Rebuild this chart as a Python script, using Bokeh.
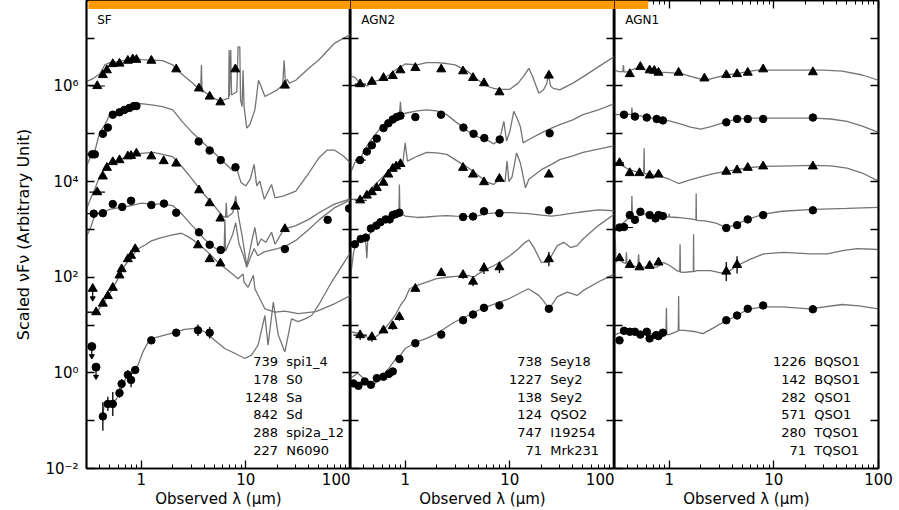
import numpy as np
from bokeh.plotting import figure
from bokeh.layouts import row
from bokeh.models import (FixedTicker, CustomJSTickFormatter, LogAxis, Range1d,
                          BoxAnnotation)
from bokeh.core.properties import value
from bokeh.embed import file_html
from bokeh.resources import INLINE

# ------------------------------------------------------------------ data
# wavelengths in micron, fluxes given as log10(nuFnu)

# ---- SF panel
spi1_4_line_lam = [0.30, 0.35, 0.40, 0.45, 0.50, 0.60, 0.70, 0.80, 1.0, 1.3, 1.6, 2.0, 2.5, 3.0, 3.7, 3.76, 3.82,
                   4.0, 5.0, 5.7, 6.3, 6.85, 6.92, 6.97, 7.17, 7.3, 8.2, 8.43, 8.75, 8.9, 9.21, 9.4, 9.62, 10.2,
                   10.9, 12.2, 13.2, 14.0, 15.2, 20, 22.5, 23.2, 23.9, 24.8, 26, 30, 40, 50, 70, 100]
spi1_4_line_logf = [6.09, 6.16, 6.25, 6.44, 6.49, 6.51, 6.54, 6.58, 6.55, 6.54, 6.53, 6.44, 6.23, 6.09, 5.90, 6.44,
                    5.88, 5.88, 5.74, 5.68, 5.72, 5.74, 6.75, 5.78, 6.75, 5.81, 5.88, 6.82, 6.82, 5.71, 5.57, 6.33,
                    5.57, 5.12, 5.19, 5.50, 6.12, 5.99, 5.78, 5.92, 6.02, 6.54, 6.06, 6.14, 6.06, 6.12, 6.37, 6.55,
                    6.89, 7.08]
spi1_4_pts_lam = [0.38, 0.43, 0.47, 0.535, 0.62, 0.745, 0.83, 0.90, 1.25, 2.16, 3.56, 4.51, 5.71, 7.94, 23.6]
spi1_4_pts_logf = [6.0, 6.23, 6.33, 6.46, 6.47, 6.53, 6.56, 6.55, 6.53, 6.35, 5.95, 5.78, 5.66, 6.35, 6.01]
spi1_4_hbar = [0.32, 0.45]

s0_line_lam = [0.30, 0.33, 0.36, 0.40, 0.45, 0.50, 0.60, 0.70, 0.80, 1.0, 1.3, 1.6, 2.0, 2.5, 3.0, 4.0, 5.0, 6.0,
               7.0, 7.6, 8.0, 8.5, 9.0, 10, 11, 12, 12.7, 13.6, 15, 17.6, 19, 23, 30, 40, 50, 60, 70, 85, 100]
s0_line_logf = [4.32, 4.53, 4.63, 5.02, 5.19, 5.40, 5.47, 5.51, 5.57, 5.63, 5.60, 5.57, 5.50, 5.24, 5.05, 4.79,
                4.60, 4.43, 4.29, 4.22, 4.36, 4.15, 3.98, 3.91, 4.05, 4.36, 3.91, 4.01, 3.63, 3.94, 3.66, 3.70,
                3.80, 4.18, 4.50, 4.66, 4.66, 4.54, 4.39]
s0_pts_lam = [0.34, 0.36, 0.43, 0.48, 0.535, 0.62, 0.69, 0.77, 0.85, 0.90, 3.54, 4.51, 5.75, 7.96]
s0_pts_logf = [4.57, 4.57, 5.0, 5.13, 5.40, 5.45, 5.50, 5.54, 5.58, 5.58, 4.84, 4.65, 4.45, 4.30]
s0_hbar = [0.30, 0.38]

sa_line_lam = [0.30, 0.33, 0.36, 0.40, 0.45, 0.50, 0.60, 0.70, 0.80, 1.0, 1.3, 1.6, 2.0, 2.5, 3.0, 4.0, 5.0, 6.0,
               6.4, 6.5, 6.6, 7.5, 8.0, 8.5, 9.2, 10.2, 11.5, 12.2, 13, 14, 15.5, 17.6, 19, 23, 30, 40, 50, 70, 100]
sa_line_logf = [3.42, 3.66, 3.84, 4.11, 4.29, 4.38, 4.45, 4.50, 4.57, 4.59, 4.61, 4.57, 4.52, 4.29, 4.08, 3.73,
                3.49, 3.28, 3.25, 3.56, 3.25, 3.35, 3.70, 3.28, 2.87, 2.24, 2.80, 3.04, 2.66, 2.80, 2.73, 2.94,
                2.69, 3.0, 3.08, 3.21, 3.35, 3.53, 3.64]
sa_pts_lam = [0.38, 0.43, 0.47, 0.535, 0.62, 0.745, 0.80, 0.90, 1.25, 1.64, 2.16, 3.57, 4.51, 5.71, 7.94, 23.6]
sa_pts_logf = [3.78, 4.11, 4.29, 4.41, 4.45, 4.53, 4.54, 4.59, 4.53, 4.43, 4.38, 3.82, 3.55, 3.23, 3.48, 3.01]
sa_hbar = [0.32, 0.45]

sd_line_lam = [0.30, 0.33, 0.36, 0.40, 0.45, 0.50, 0.60, 0.70, 0.80, 1.0, 1.3, 1.6, 2.0, 2.5, 3.0, 3.5, 4.0, 5.0,
               5.7, 6.2, 6.3, 6.4, 7.5, 8.0, 8.6, 9.5, 10.2, 11, 12, 13, 15, 20, 24, 30, 40, 50, 70, 100]
sd_line_logf = [2.85, 3.05, 3.30, 3.35, 3.38, 3.42, 3.45, 3.47, 3.50, 3.55, 3.53, 3.53, 3.50, 3.30, 3.10, 2.95,
                2.80, 2.62, 2.55, 2.55, 3.20, 2.55, 2.90, 3.14, 2.70, 2.45, 2.21, 2.40, 2.60, 2.45, 2.53, 2.60,
                2.65, 2.77, 3.00, 3.20, 3.45, 3.62]
sd_pts_lam = [0.352, 0.43, 0.535, 0.658, 0.80, 1.25, 1.65, 2.16, 3.57, 4.51, 5.75, 23.6, 60.5, 97]
sd_pts_logf = [3.33, 3.34, 3.53, 3.47, 3.60, 3.51, 3.54, 3.35, 2.94, 2.68, 2.57, 2.59, 3.20, 3.44]
sd_hbar = [0.30, 0.41]

spi2a_line_lam = [0.30, 0.38, 0.41, 0.445, 0.52, 0.60, 0.69, 0.80, 0.93, 1.08, 1.25, 1.56, 1.94, 2.42, 2.80, 3.49,
                  4.35, 5.43, 6.77, 8.43, 9.4, 9.6, 10.5, 11.8, 12.2, 15.2, 19, 23.6, 31.6, 46.8, 71, 100]
spi2a_line_logf = [1.26, 1.26, 1.40, 1.50, 1.72, 1.97, 2.23, 2.42, 2.59, 2.67, 2.76, 2.83, 2.88, 2.92, 2.85, 2.71,
                   2.52, 2.31, 2.14, 1.97, 2.07, 1.90, 1.79, 2.04, 1.76, 1.34, 1.27, 1.29, 1.24, 1.28, 1.45, 1.62]
spi2a_pts_lam = [0.371, 0.43, 0.48, 0.535, 0.62, 0.65, 0.745, 0.80, 0.876, 3.49, 4.51, 5.71]
spi2a_pts_logf = [1.27, 1.45, 1.61, 1.78, 2.04, 2.17, 2.38, 2.45, 2.59, 2.67, 2.38, 2.29]
spi2a_hbar = [0.30, 0.40]
spi2a_lim_lam = [0.344]
spi2a_lim_logf = [1.76]

n6090_line_lam = [0.43, 0.445, 0.50, 0.58, 0.64, 0.72, 0.83, 0.93, 1.04, 1.16, 1.34, 1.67, 2.08, 2.60, 3.24, 4.05,
                  5.04, 6.28, 7.83, 9.78, 11.3, 13.1, 15.2, 16.3, 18.3, 20.4, 23.6, 27.3, 31.6, 36.7, 42.5, 49.3,
                  66, 100]
n6090_line_logf = [-0.87, -0.63, -0.60, -0.56, -0.29, -0.11, -0.01, 0.16, 0.44, 0.64, 0.73, 0.79, 0.84, 0.91,
                   0.93, 0.86, 0.68, 0.51, 0.41, 0.30, 0.37, 0.58, 1.20, 0.58, 1.48, 0.79, 0.44, 1.13, 1.07, 1.13,
                   1.20, 1.41, 1.90, 2.52]
n6090_pts_lam = [0.43, 0.48, 0.535, 0.62, 0.65, 0.745, 0.80, 0.876, 1.25, 2.16, 3.49, 4.51]
n6090_pts_logf = [-0.91, -0.65, -0.65, -0.42, -0.23, -0.04, -0.15, 0.06, 0.68, 0.84, 0.89, 0.84]
n6090_yerr = [0.30, 0.15, 0.25, 0.10, 0.10, 0.10, 0.15, 0.05, 0.05, 0.03, 0.12, 0.12]
n6090_lim_lam = [0.337, 0.37]
n6090_lim_logf = [0.55, 0.12]

# ---- AGN2 panel
sey18_line_lam = [0.30, 0.33, 0.37, 0.43, 0.50, 0.60, 0.70, 0.80, 1.0, 1.3, 1.6, 2.0, 2.5, 3.0, 4.0, 5.0, 6.0, 7.0,
                  8.0, 10, 12, 13.5, 15.2, 16.5, 18.9, 21, 22.5, 23.3, 24.5, 26, 30, 40, 50, 70, 100]
sey18_line_logf = [6.21, 6.18, 6.06, 6.0, 6.09, 6.14, 6.23, 6.33, 6.46, 6.44, 6.49, 6.49, 6.47, 6.44, 6.30, 6.12,
                   6.0, 5.95, 5.93, 5.93, 6.06, 6.20, 6.37, 6.20, 5.85, 5.92, 6.05, 6.23, 6.0, 5.95, 5.92, 6.06,
                   6.19, 6.40, 6.62]
sey18_pts_lam = [0.371, 0.48, 0.62, 0.76, 0.90, 1.25, 2.21, 3.57, 4.45, 5.66, 7.95, 23.6]
sey18_pts_logf = [6.04, 6.09, 6.17, 6.21, 6.33, 6.38, 6.35, 6.31, 6.17, 6.06, 5.87, 6.22]
sey18_hbar = [0.33, 0.42]

sey2a_line_lam = [0.30, 0.33, 0.37, 0.40, 0.45, 0.50, 0.60, 0.70, 0.80, 0.88, 0.90, 0.92, 1.0, 1.3, 1.6, 2.0, 2.5,
                  3.0, 4.0, 5.0, 6.0, 7.0, 8.0, 8.76, 9.3, 10.0, 10.9, 11.7, 12.6, 13.4, 15.2, 20, 25, 30, 40, 50,
                  70, 100]
sey2a_line_logf = [4.18, 4.40, 4.45, 4.63, 4.81, 4.95, 5.15, 5.26, 5.35, 5.38, 5.67, 5.40, 5.43, 5.48, 5.50, 5.48,
                   5.40, 5.26, 5.05, 4.93, 4.88, 4.79, 4.88, 5.26, 4.85, 5.05, 5.47, 5.33, 5.15, 4.81, 4.88, 5.02,
                   5.12, 5.19, 5.29, 5.40, 5.50, 5.63]
sey2a_pts_lam = [0.37, 0.43, 0.48, 0.535, 0.62, 0.69, 0.76, 0.83, 0.90, 1.25, 2.2, 3.6, 4.5, 5.7, 8.0, 24]
sey2a_pts_logf = [4.45, 4.63, 4.76, 4.90, 5.12, 5.22, 5.30, 5.35, 5.38, 5.35, 5.40, 5.13, 5.0, 4.91, 4.88, 5.01]
sey2a_hbar = [0.33, 0.42]

sey2b_line_lam = [0.30, 0.35, 0.40, 0.45, 0.50, 0.60, 0.70, 0.80, 0.95, 1.0, 1.05, 1.3, 1.6, 2.0, 2.5, 3.0, 4.0,
                  5.0, 6.0, 7.0, 8.0, 9.0, 9.4, 9.8, 10.5, 11.6, 12.6, 14.1, 15.2, 20, 25, 30, 40, 50, 70, 100]
sey2b_line_logf = [3.63, 3.63, 3.68, 3.80, 3.91, 4.08, 4.22, 4.32, 4.40, 4.81, 4.43, 4.53, 4.61, 4.60, 4.57, 4.46,
                   4.29, 4.13, 3.99, 3.94, 4.05, 4.0, 4.43, 4.0, 4.10, 4.60, 4.39, 3.87, 4.05, 4.25, 4.36, 4.46,
                   4.54, 4.61, 4.68, 4.75]
sey2b_pts_lam = [0.371, 0.43, 0.48, 0.535, 0.62, 0.69, 0.76, 0.82, 0.90, 3.57, 4.45, 5.66, 7.95, 23.6]
sey2b_pts_logf = [3.61, 3.71, 3.78, 3.87, 3.98, 4.15, 4.27, 4.32, 4.37, 4.29, 4.15, 3.99, 4.06, 4.15]
sey2b_hbar = [0.33, 0.43]

qso2_line_lam = [0.30, 0.32, 0.34, 0.37, 0.40, 0.42, 0.43, 0.44, 0.50, 0.60, 0.70, 0.80, 0.87, 0.88, 0.89, 1.0, 1.3,
                 1.6, 2.0, 2.5, 3.0, 4.0, 5.0, 6.0, 8.0, 10, 15, 20, 25, 30, 40, 50, 70, 100]
qso2_line_logf = [2.0, 2.5, 2.75, 2.80, 2.84, 2.70, 2.40, 2.85, 3.04, 3.18, 3.25, 3.33, 3.35, 3.94, 3.35, 3.28,
                  3.25, 3.26, 3.28, 3.29, 3.28, 3.27, 3.29, 3.33, 3.35, 3.35, 3.33, 3.30, 3.28, 3.30, 3.34, 3.37,
                  3.41, 3.39]
qso2_pts_lam = [0.33, 0.376, 0.42, 0.47, 0.53, 0.58, 0.65, 0.71, 0.76, 0.81, 0.88, 3.57, 4.45, 5.66, 7.95, 23.6]
qso2_pts_logf = [2.69, 2.80, 2.83, 3.02, 3.08, 3.15, 3.21, 3.21, 3.30, 3.32, 3.35, 3.26, 3.27, 3.38, 3.34, 3.40]
qso2_hbar = [0.30, 0.36]

i19254_line_lam = [0.30, 0.37, 0.43, 0.45, 0.50, 0.60, 0.70, 0.80, 0.90, 1.0, 1.1, 1.3, 1.6, 2.0, 2.5, 3.0, 4.0,
                   4.5, 5.0, 6.0, 7.0, 8.0, 10, 12, 14, 15.2, 17, 20, 23, 25, 28.4, 32.8, 38, 44, 50, 70, 100]
i19254_line_logf = [0.86, 0.82, 0.75, 0.68, 0.72, 0.86, 1.03, 1.20, 1.41, 1.55, 1.76, 1.83, 1.90, 1.97, 2.00,
                    2.02, 2.04, 2.00, 2.07, 2.17, 2.24, 2.31, 2.45, 2.59, 2.73, 2.78, 2.62, 2.31, 2.31, 2.45, 2.66,
                    2.73, 2.62, 2.66, 2.80, 3.08, 3.32]
i19254_pts_lam = [0.371, 0.48, 0.62, 0.76, 0.88, 1.25, 2.21, 3.57, 4.45, 5.66, 7.95, 23.6]
i19254_pts_logf = [0.79, 0.75, 0.89, 0.98, 1.17, 1.76, 2.09, 2.05, 1.91, 2.19, 2.21, 2.38]
i19254_yerr = [0.10, 0.10, 0.0, 0.08, 0.08, 0.05, 0.0, 0.08, 0.10, 0.12, 0.12, 0.15]
i19254_hbar = [0.32, 0.43]

mrk231_line_lam = [0.30, 0.33, 0.35, 0.37, 0.40, 0.45, 0.50, 0.60, 0.70, 0.80, 0.90, 1.0, 1.3, 1.6, 2.0, 2.5, 3.0,
                   4.0, 5.0, 6.0, 8.0, 10, 12, 15, 18.9, 21, 23, 25, 28.3, 35.3, 44, 50, 70, 100]
mrk231_line_logf = [-0.11, -0.05, 0.0, -0.05, -0.11, -0.29, -0.25, -0.08, 0.10, 0.27, 0.37, 0.51, 0.65, 0.72, 0.82,
                    0.96, 1.07, 1.20, 1.31, 1.38, 1.48, 1.56, 1.65, 1.76, 1.62, 1.50, 1.38, 1.41, 1.59, 1.69, 1.62,
                    1.72, 1.90, 2.07]
mrk231_pts_lam = [0.32, 0.357, 0.41, 0.47, 0.535, 0.62, 0.70, 0.76, 0.88, 1.25, 2.21, 3.57, 4.45, 5.66, 7.95, 23.6]
mrk231_pts_logf = [-0.22, -0.27, -0.18, -0.25, -0.11, -0.08, -0.02, 0.03, 0.29, 0.62, 0.80, 1.10, 1.22, 1.36,
                   1.41, 1.34]

# ---- AGN1 panel
bqso1a_line_lam = [0.30, 0.33, 0.36, 0.365, 0.37, 0.40, 0.45, 0.50, 0.55, 0.60, 0.70, 0.80, 1.0, 1.3, 1.6, 2.2,
                   2.6, 3.5, 4.5, 5.5, 7.0, 10, 15, 20, 30, 45, 70, 100]
bqso1a_line_logf = [6.33, 6.30, 6.30, 6.44, 6.29, 6.30, 6.35, 6.38, 6.37, 6.33, 6.31, 6.29, 6.28, 6.26, 6.20,
                    6.12, 6.16, 6.23, 6.26, 6.30, 6.33, 6.33, 6.33, 6.33, 6.33, 6.31, 6.23, 6.12]
bqso1a_pts_lam = [0.42, 0.53, 0.65, 0.72, 0.79, 1.23, 2.17, 3.51, 4.45, 5.63, 7.9, 23.6]
bqso1a_pts_logf = [6.25, 6.40, 6.33, 6.32, 6.28, 6.28, 6.16, 6.23, 6.25, 6.28, 6.35, 6.29]

bqso1b_line_lam = [0.30, 0.35, 0.40, 0.435, 0.44, 0.445, 0.50, 0.60, 0.80, 1.0, 1.3, 1.6, 2.0, 2.5, 3.5, 4.5, 5.6,
                   8, 15, 24, 35, 50, 70, 100]
bqso1b_line_logf = [5.40, 5.40, 5.41, 5.40, 5.55, 5.40, 5.38, 5.36, 5.30, 5.27, 5.20, 5.14, 5.10, 5.15, 5.25, 5.31,
                    5.33, 5.33, 5.33, 5.33, 5.31, 5.26, 5.16, 5.03]
bqso1b_pts_lam = [0.37, 0.47, 0.61, 0.76, 0.87, 3.51, 4.45, 5.63, 7.9, 23.6]
bqso1b_pts_logf = [5.40, 5.36, 5.34, 5.31, 5.28, 5.24, 5.31, 5.31, 5.31, 5.34]

qso1a_line_lam = [0.30, 0.33, 0.36, 0.40, 0.46, 0.52, 0.57, 0.576, 0.58, 0.65, 0.80, 1.0, 1.23, 1.5, 2.0, 2.6, 3.5,
                  4.5, 5.6, 8, 15, 24, 35, 50, 70, 100]
qso1a_line_logf = [4.36, 4.39, 4.33, 4.27, 4.22, 4.19, 4.18, 4.70, 4.17, 4.15, 4.12, 4.05, 3.96, 4.02, 4.10, 4.16,
                   4.22, 4.25, 4.29, 4.32, 4.33, 4.34, 4.33, 4.28, 4.18, 4.01]
qso1a_pts_lam = [0.335, 0.42, 0.52, 0.65, 0.79, 3.51, 4.45, 5.63, 7.9, 23.6]
qso1a_pts_logf = [4.39, 4.18, 4.18, 4.13, 4.15, 4.21, 4.24, 4.29, 4.32, 4.32]
qso1a_hbar = [0.30, 0.37]

qso1b_line_lam = [0.30, 0.32, 0.34, 0.37, 0.40, 0.435, 0.44, 0.445, 0.50, 0.60, 0.70, 0.80, 0.99, 1.0, 1.01, 1.2,
                  1.6, 1.80, 1.81, 1.82, 2.2, 2.8, 3.5, 4.2, 5.6, 8, 12, 24, 50, 100]
qso1b_line_logf = [2.94, 3.01, 3.08, 3.15, 3.22, 3.25, 3.70, 3.25, 3.28, 3.33, 3.30, 3.28, 3.26, 3.33, 3.26, 3.25,
                   3.22, 3.20, 3.75, 3.19, 3.18, 3.13, 3.04, 3.09, 3.21, 3.32, 3.38, 3.42, 3.44, 3.46]
qso1b_pts_lam = [0.335, 0.37, 0.42, 0.47, 0.53, 0.65, 0.74, 0.79, 0.87, 3.51, 4.45, 5.63, 7.9, 23.6]
qso1b_pts_logf = [3.04, 3.05, 3.30, 3.20, 3.37, 3.30, 3.23, 3.30, 3.28, 3.03, 3.09, 3.21, 3.30, 3.40]
qso1b_hbar = [0.30, 0.45]

tqso1a_line_lam = [0.30, 0.305, 0.31, 0.33, 0.36, 0.385, 0.39, 0.395, 0.45, 0.50, 0.51, 0.52, 0.57, 0.76, 0.88,
                   1.02, 1.18, 1.26, 1.27, 1.28, 1.37, 1.70, 1.71, 1.72, 1.84, 2.47, 3.44, 4.45, 5.97, 8.0, 12.4,
                   22.4, 32.4, 46.8, 62.6, 100]
tqso1a_line_logf = [2.31, 2.80, 2.31, 2.40, 2.31, 2.29, 2.52, 2.28, 2.24, 2.21, 2.48, 2.21, 2.21, 2.21, 2.31, 2.24,
                    2.14, 2.12, 2.69, 2.11, 2.10, 2.12, 2.90, 2.12, 2.14, 2.14, 2.07, 2.24, 2.38, 2.49, 2.52, 2.49,
                    2.49, 2.56, 2.60, 2.58]
tqso1a_pts_lam = [0.335, 0.42, 0.52, 0.65, 0.79, 3.51, 4.45]
tqso1a_pts_logf = [2.40, 2.26, 2.21, 2.24, 2.31, 2.12, 2.26]
tqso1a_yerr = [0.0, 0.0, 0.0, 0.0, 0.0, 0.20, 0.18]

tqso1b_line_lam = [0.30, 0.33, 0.37, 0.42, 0.50, 0.60, 0.75, 0.93, 0.94, 0.95, 1.0, 1.22, 1.23, 1.24, 1.4, 1.8,
                   2.1, 2.6, 3.4, 4.5, 5.6, 8.0, 12, 22, 45, 65, 100]
tqso1b_line_logf = [0.79, 0.83, 0.86, 0.86, 0.85, 0.82, 0.82, 0.80, 1.36, 0.80, 0.80, 0.88, 1.61, 0.89, 0.89, 0.86,
                    0.82, 0.93, 1.08, 1.20, 1.33, 1.38, 1.38, 1.34, 1.43, 1.40, 1.34]
tqso1b_pts_lam = [0.335, 0.37, 0.42, 0.47, 0.53, 0.61, 0.65, 0.75, 0.79, 0.87, 3.51, 4.45, 5.63, 7.9, 23.6]
tqso1b_pts_logf = [0.68, 0.88, 0.86, 0.86, 0.80, 0.86, 0.72, 0.79, 0.77, 0.84, 1.10, 1.20, 1.34, 1.41, 1.33]

# legend texts (top to bottom)
sf_ids = ["739", "178", "1248", "842", "288", "227"]
sf_names = ["spi1_4", "S0", "Sa", "Sd", "spi2a_12", "N6090"]
agn2_ids = ["738", "1227", "138", "124", "747", "71"]
agn2_names = ["Sey18", "Sey2", "Sey2", "QSO2", "I19254", "Mrk231"]
agn1_ids = ["1226", "142", "282", "571", "280", "71"]
agn1_names = ["BQSO1", "BQSO1", "QSO1", "QSO1", "TQSO1", "TQSO1"]

x_major = [1, 10, 100]
x_minor = [0.4, 0.5, 0.6, 0.7, 0.8, 0.9, 2, 3, 4, 5, 6, 7, 8, 9, 20, 30, 40, 50, 60, 70, 80, 90]
y_major = [1e-2, 1e-1, 1e0, 1e1, 1e2, 1e3, 1e4, 1e5, 1e6, 1e7]

# ------------------------------------------------------------------ style
FONT = "DejaVu Sans"
CURVE = "#747474"
X_RANGE = (0.3, 100)
Y_TOP_LOG = 7.788          # frame top (the banner covers the upper strip)
Y_RANGE = (1e-2, 10 ** Y_TOP_LOG)
BANNER_BOTTOM = 10 ** 7.61
legend_logy = [0.23, -0.14, -0.51, -0.875, -1.25, -1.615]


def pw(a):
    return 10.0 ** np.asarray(a, dtype=float)


def make_panel(width, left, right, first):
    p = figure(width=width, height=510, x_axis_type="log", y_axis_type="log",
               x_range=Range1d(*X_RANGE), y_range=Range1d(*Y_RANGE),
               output_backend="svg", toolbar_location=None,
               min_border_left=left, min_border_right=right,
               min_border_top=0, min_border_bottom=40)
    p.grid.visible = False
    p.outline_line_color = "black"
    p.outline_line_width = 1.7
    p.background_fill_color = "white"
    p.border_fill_color = "white"

    xa = p.xaxis[0]
    xa.ticker = FixedTicker(ticks=x_major, minor_ticks=x_minor)
    xa.formatter = CustomJSTickFormatter(code="return String(Math.round(tick));")
    xa.axis_label = "Observed λ (μm)"
    xa.axis_label_text_font = FONT
    xa.axis_label_text_font_size = "15px"
    xa.axis_label_text_font_style = "normal"
    xa.axis_label_text_color = "black"
    xa.axis_label_standoff = 2
    xa.major_label_text_font = FONT
    xa.major_label_text_font_size = "15px"
    xa.major_label_standoff = 4

    ya = p.yaxis[0]
    ya.ticker = FixedTicker(ticks=y_major, minor_ticks=[])
    if first:
        ya.formatter = CustomJSTickFormatter(code="""
            const e = Math.round(Math.log10(tick));
            if (e % 2 != 0) return "";
            const sup = {"-":"\u207b","0":"\u2070","1":"\u00b9","2":"\u00b2","3":"\u00b3","4":"\u2074",
                         "5":"\u2075","6":"\u2076","7":"\u2077","8":"\u2078","9":"\u2079"};
            return "10" + String(e).split("").map(c => sup[c]).join("");
        """)
        ya.axis_label = "Scaled νFν (Arbitrary Unit)"
        ya.axis_label_text_font = FONT
        ya.axis_label_text_font_size = "16px"
        ya.axis_label_text_font_style = "normal"
        ya.axis_label_text_color = "black"
        ya.axis_label_standoff = 9
        ya.major_label_text_font = FONT
        ya.major_label_text_font_size = "15px"
        ya.major_label_standoff = 8
    else:
        ya.formatter = CustomJSTickFormatter(code="return '';")
        ya.major_label_text_font_size = "0px"
        ya.major_label_standoff = 0

    top = LogAxis(ticker=FixedTicker(ticks=x_major, minor_ticks=x_minor),
                  formatter=CustomJSTickFormatter(code="return '';"),
                  major_label_text_font_size="0px", major_label_standoff=0)
    rgt = LogAxis(ticker=FixedTicker(ticks=y_major, minor_ticks=[]),
                  formatter=CustomJSTickFormatter(code="return '';"),
                  major_label_text_font_size="0px", major_label_standoff=0)
    p.add_layout(top, "above")
    p.add_layout(rgt, "right")
    for ax in (xa, ya, top, rgt):
        ax.major_tick_in = 8
        ax.major_tick_out = 0
        ax.minor_tick_in = 4
        ax.minor_tick_out = 0
        ax.axis_line_color = "black"
        ax.axis_line_width = 1.7
        ax.major_tick_line_width = 1.3
        ax.minor_tick_line_width = 1.0
        ax.major_label_text_color = "black"
    return p


def draw_sed(p, line_lam, line_logf, pts_lam, pts_logf, marker, yerr=None, hbar=None,
             lim_lam=None, lim_logf=None):
    p.line(line_lam, pw(line_logf), line_color=CURVE, line_width=1.3)
    if hbar is not None:
        yy = pw(pts_logf[:1])
        p.segment(x0=[hbar[0]], y0=yy, x1=[hbar[1]], y1=yy, line_color="black", line_width=1.2)
    if yerr is not None:
        lf = np.asarray(pts_logf)
        e = np.asarray(yerr)
        p.segment(x0=pts_lam, y0=pw(lf - e), x1=pts_lam, y1=pw(lf + e), line_color="black", line_width=1.3)
    if lim_lam is not None:
        lf = np.asarray(lim_logf)
        p.segment(x0=lim_lam, y0=pw(lf), x1=lim_lam, y1=pw(lf - 0.2), line_color="black", line_width=1.2)
        p.scatter(lim_lam, pw(lf - 0.2), marker="inverted_triangle", size=5, color="black")
        p.scatter(lim_lam, pw(lf), marker=marker, size=8 if marker == "circle" else 9, color="black")
    p.scatter(pts_lam, pw(pts_logf), marker=marker, size=7.5 if marker == "circle" else 9,
              fill_color="black", line_color="black")


def add_texts(p, title, ids, names):
    p.text(x=[0.38], y=[10 ** 7.39], text=[title], text_font=value(FONT), text_font_size="12px",
           text_baseline="middle", text_align="left", text_color="black")
    ys = pw(legend_logy)
    p.text(x=[20.3] * len(ids), y=ys, text=ids, text_font=value(FONT), text_font_size="13px",
           text_baseline="middle", text_align="right", text_color="black")
    p.text(x=[24.3] * len(names), y=ys, text=names, text_font=value(FONT), text_font_size="13px",
           text_baseline="middle", text_align="left", text_color="black")


# ------------------------------------------------------------------ panels
p1 = make_panel(350, 86, 0, True)
draw_sed(p1, spi1_4_line_lam, spi1_4_line_logf, spi1_4_pts_lam, spi1_4_pts_logf, "triangle", hbar=spi1_4_hbar)
draw_sed(p1, s0_line_lam, s0_line_logf, s0_pts_lam, s0_pts_logf, "circle", hbar=s0_hbar)
draw_sed(p1, sa_line_lam, sa_line_logf, sa_pts_lam, sa_pts_logf, "triangle", hbar=sa_hbar)
draw_sed(p1, sd_line_lam, sd_line_logf, sd_pts_lam, sd_pts_logf, "circle", hbar=sd_hbar)
draw_sed(p1, spi2a_line_lam, spi2a_line_logf, spi2a_pts_lam, spi2a_pts_logf, "triangle", hbar=spi2a_hbar,
         lim_lam=spi2a_lim_lam, lim_logf=spi2a_lim_logf)
draw_sed(p1, n6090_line_lam, n6090_line_logf, n6090_pts_lam, n6090_pts_logf, "circle", yerr=n6090_yerr,
         lim_lam=n6090_lim_lam, lim_logf=n6090_lim_logf)
add_texts(p1, "SF", sf_ids, sf_names)

p2 = make_panel(264, 0, 0, False)
draw_sed(p2, sey18_line_lam, sey18_line_logf, sey18_pts_lam, sey18_pts_logf, "triangle", hbar=sey18_hbar)
draw_sed(p2, sey2a_line_lam, sey2a_line_logf, sey2a_pts_lam, sey2a_pts_logf, "circle", hbar=sey2a_hbar)
draw_sed(p2, sey2b_line_lam, sey2b_line_logf, sey2b_pts_lam, sey2b_pts_logf, "triangle", hbar=sey2b_hbar)
draw_sed(p2, qso2_line_lam, qso2_line_logf, qso2_pts_lam, qso2_pts_logf, "circle", hbar=qso2_hbar)
draw_sed(p2, i19254_line_lam, i19254_line_logf, i19254_pts_lam, i19254_pts_logf, "triangle",
         yerr=i19254_yerr, hbar=i19254_hbar)
draw_sed(p2, mrk231_line_lam, mrk231_line_logf, mrk231_pts_lam, mrk231_pts_logf, "circle")
add_texts(p2, "AGN2", agn2_ids, agn2_names)

p3 = make_panel(285, 0, 21, False)
draw_sed(p3, bqso1a_line_lam, bqso1a_line_logf, bqso1a_pts_lam, bqso1a_pts_logf, "triangle")
draw_sed(p3, bqso1b_line_lam, bqso1b_line_logf, bqso1b_pts_lam, bqso1b_pts_logf, "circle")
draw_sed(p3, qso1a_line_lam, qso1a_line_logf, qso1a_pts_lam, qso1a_pts_logf, "triangle", hbar=qso1a_hbar)
draw_sed(p3, qso1b_line_lam, qso1b_line_logf, qso1b_pts_lam, qso1b_pts_logf, "circle", hbar=qso1b_hbar)
draw_sed(p3, tqso1a_line_lam, tqso1a_line_logf, tqso1a_pts_lam, tqso1a_pts_logf, "triangle", yerr=tqso1a_yerr)
draw_sed(p3, tqso1b_line_lam, tqso1b_line_logf, tqso1b_pts_lam, tqso1b_pts_logf, "circle")
add_texts(p3, "AGN1", agn1_ids, agn1_names)

# orange banner strip across the top, drawn in data units inside each frame
p1.add_layout(BoxAnnotation(left=0.313, bottom=BANNER_BOTTOM, fill_color="#FF9A00", fill_alpha=1.0,
                            line_alpha=0.0, level="overlay"))
p2.add_layout(BoxAnnotation(bottom=BANNER_BOTTOM, fill_color="#FF9A00", fill_alpha=1.0,
                            line_alpha=0.0, level="overlay"))
p3.add_layout(BoxAnnotation(right=0.63, bottom=BANNER_BOTTOM, fill_color="#FF9A00", fill_alpha=1.0,
                            line_alpha=0.0, level="overlay"))

layout = row(p1, p2, p3)
open("out.html", "w").write(file_html(layout, INLINE))
